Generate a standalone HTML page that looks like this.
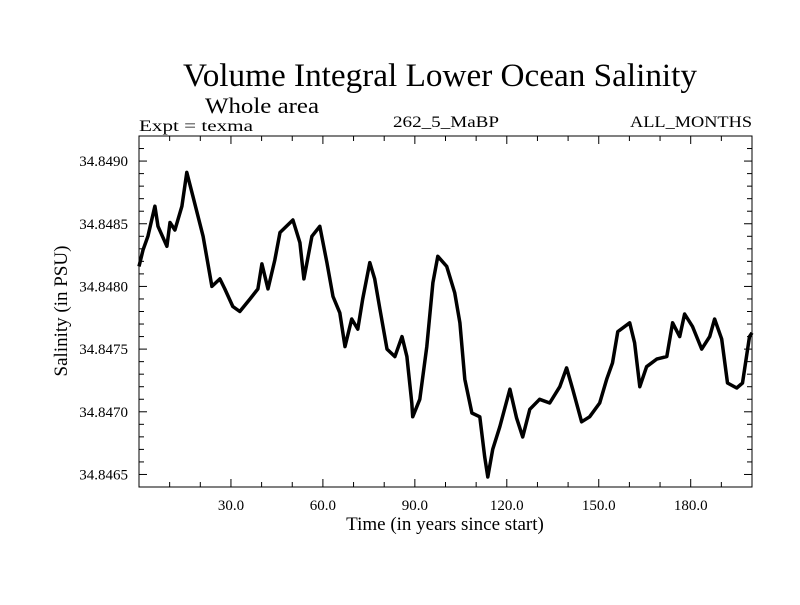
<!DOCTYPE html>
<html><head><meta charset="utf-8"><style>
body{margin:0;background:#fff}
svg text{font-family:"Liberation Serif",serif;fill:#000}
</style></head><body>
<svg id="chart" width="800" height="600" xmlns="http://www.w3.org/2000/svg">
<rect width="800" height="600" fill="#fff"/>
<text x="183" y="86" font-size="33" textLength="514" lengthAdjust="spacingAndGlyphs">Volume Integral Lower Ocean Salinity</text>
<text x="205" y="113" font-size="22" textLength="114" lengthAdjust="spacingAndGlyphs">Whole area</text>
<text x="139" y="131" font-size="16" textLength="114" lengthAdjust="spacingAndGlyphs">Expt = texma</text>
<text x="393" y="127" font-size="16" textLength="106" lengthAdjust="spacingAndGlyphs">262_5_MaBP</text>
<text x="630" y="127" font-size="16" textLength="122" lengthAdjust="spacingAndGlyphs">ALL_MONTHS</text>
<text transform="translate(67,311) rotate(-90)" text-anchor="middle" font-size="19">Salinity (in PSU)</text>
<text x="445" y="530" text-anchor="middle" font-size="19">Time (in years since start)</text>
<g id="axes"></g>
<path id="series" fill="none" stroke="#000" stroke-width="3.5" stroke-linejoin="round"/>
<rect x="139" y="136" width="613" height="351" fill="none" stroke="#000" stroke-width="1"/>
</svg>
<script>
const years=[0,1.3,2.9,5.2,6.2,9.1,10.1,11.7,14.0,15.6,17.6,20.9,23.8,26.4,28.0,30.6,32.9,36.2,38.8,40.1,42.1,44.3,46.0,50.2,52.5,53.8,56.4,59.0,61.3,63.3,65.5,67.2,69.4,71.4,73.0,75.3,76.9,78.6,80.9,83.5,85.8,87.4,89.0,89.3,91.6,93.9,95.9,97.5,100.4,103.0,104.7,106.3,108.6,111.2,112.8,113.8,115.4,117.7,121.0,123.2,125.2,127.5,130.7,134.0,137.3,139.5,141.5,144.4,147.0,150.3,152.6,154.5,156.2,160.1,161.7,163.4,165.6,168.9,172.2,174.1,176.4,178.0,180.6,183.6,186.2,187.8,190.1,192.0,195.0,196.9,199.2,200];
const salinity=[34.84816,34.84829,34.84840,34.84864,34.84848,34.84832,34.84851,34.84845,34.84864,34.84891,34.84872,34.84840,34.84800,34.84806,34.84798,34.84784,34.84780,34.84790,34.84798,34.84818,34.84798,34.84821,34.84843,34.84853,34.84835,34.84806,34.84840,34.84848,34.84819,34.84792,34.84779,34.84752,34.84774,34.84766,34.84790,34.84819,34.84806,34.84782,34.84750,34.84744,34.84760,34.84744,34.84707,34.84696,34.84710,34.84752,34.84803,34.84824,34.84816,34.84795,34.84771,34.84726,34.84699,34.84696,34.84664,34.84648,34.84670,34.84688,34.84718,34.84695,34.84680,34.84702,34.84710,34.84707,34.84720,34.84735,34.84718,34.84692,34.84696,34.84707,34.84726,34.84739,34.84764,34.84771,34.84755,34.84720,34.84736,34.84742,34.84744,34.84771,34.84760,34.84778,34.84768,34.84750,34.84760,34.84774,34.84758,34.84723,34.84719,34.84723,34.84760,34.84763];
const xTickLabels=["30.0","60.0","90.0","120.0","150.0","180.0"];
const yTickLabels=["34.8465","34.8470","34.8475","34.8480","34.8485","34.8490"];
const X0=139,X1=752,Y0=487,Y1=136,xMin=0,xMax=200,yMin=34.84640,yMax=34.84920;
function xs(v){return X0+(v-xMin)/(xMax-xMin)*(X1-X0);}
function ys(v){return Y0-(v-yMin)/(yMax-yMin)*(Y0-Y1);}
const NS="http://www.w3.org/2000/svg",ax=document.getElementById('axes');
function ln(x1,y1,x2,y2,name){const l=document.createElementNS(NS,'line');l.setAttribute('x1',x1);l.setAttribute('y1',y1);l.setAttribute('x2',x2);l.setAttribute('y2',y2);l.setAttribute('stroke','#000');


ax.appendChild(l);}
function tx(x,y,s,anchor,name){const t=document.createElementNS(NS,'text');t.setAttribute('x',x);t.setAttribute('y',y);t.setAttribute('font-size','15');t.setAttribute('text-anchor',anchor);t.textContent=s;


ax.appendChild(t);}
for(let v=10;v<200;v+=10){const x=xs(v),L=(v%30===0)?8:5;ln(x,Y0,x,Y0-L,'x-tick');ln(x,Y1,x,Y1+L,'x-tick-top');}
xTickLabels.forEach(s=>{tx(xs(parseFloat(s)),510,s,'middle','x-tick-label');});
for(let i=0;i<=27;i++){const v=yMin+i*0.0001;const y=ys(v);const major=Math.abs(((v-34.8465)/0.0005)-Math.round((v-34.8465)/0.0005))<1e-6;const L=major?8:5;ln(X0,y,X0+L,y,'y-tick');ln(X1,y,X1-L,y,'y-tick-right');}
yTickLabels.forEach(s=>{tx(128,ys(parseFloat(s))+5,s,'end','y-tick-label');});
let d='';years.forEach((t,i)=>{d+=(i?'L':'M')+xs(t).toFixed(1)+','+ys(salinity[i]).toFixed(1);});
document.getElementById('series').setAttribute('d',d);
</script>
</body></html>
